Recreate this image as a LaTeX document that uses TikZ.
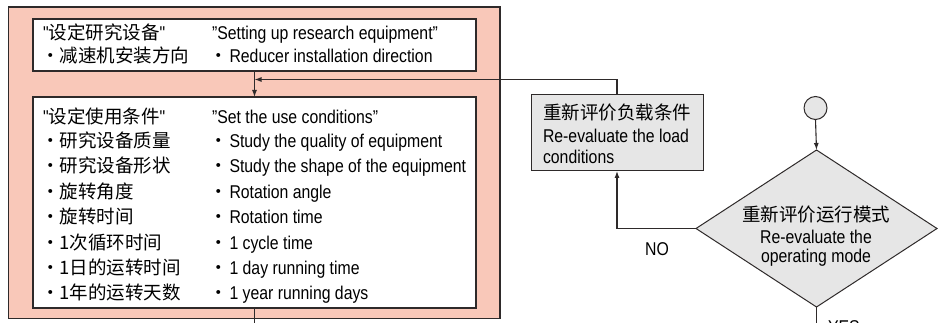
\documentclass[tikz,border=0pt]{standalone}
\usepackage{fontspec}
\setmainfont[FakeStretch=0.855]{Liberation Sans}
\newfontfamily\plainq[FakeStretch=0.855]{Liberation Sans}
\newfontfamily\cjk{Noto Sans CJK SC}
\usetikzlibrary{arrows.meta,shapes.geometric,calc}
\definecolor{pinkbg}{HTML}{F9C8B9}
\definecolor{boxgray}{HTML}{E6E6E6}
\definecolor{ink}{HTML}{2E2A2A}
\newcommand{\sq}{{\plainq "}}
\tikzset{
  frame/.style={draw=ink, line width=1.2pt, inner sep=0pt, outer sep=0pt},
  conn/.style={draw=ink, line width=1.1pt},
  arr/.style={conn, -{Latex[length=7pt,width=5pt]}},
  txt/.style={inner sep=0pt, outer sep=0pt, anchor=base west, text=black, font=\fontsize{18.5}{22}\selectfont},
  ctxt/.style={txt, anchor=base},
}
\begin{document}
\begin{tikzpicture}[x=1pt,y=-1pt]
\useasboundingbox (0,0) rectangle (944,323);
\clip (0,0) rectangle (944,323);
% outer pink panel
\node[frame, fill=pinkbg, minimum width=491.5pt, minimum height=311.5pt, anchor=north west] (panel) at (8.5,7) {};
% box 1
\node[frame, fill=white, minimum width=443pt, minimum height=52pt, anchor=north west] (box1) at (33,19) {};
% box 2
\node[frame, fill=white, minimum width=443pt, minimum height=211pt, anchor=north west] (box2) at (33,97) {};
% reload box
\node[frame, line width=1pt, fill=boxgray, minimum width=172pt, minimum height=76pt, anchor=north west] (reload) at (531,95) {};
% start circle
\node[frame, line width=1pt, fill=boxgray, circle, minimum size=23pt] (start) at (815.5,108) {};
% decision diamond
\node[frame, line width=1pt, fill=boxgray, diamond, minimum width=241pt, minimum height=157pt] (dec) at (816.5,228.5) {};

% box 1 text
\node[txt] (t1a) at (43,40) {\sq{\cjk 设定研究设备}\sq};
\node[txt] (t1b) at (41,62.5) {\cjk ・减速机安装方向};
\node[txt] (e1a) at (212,40) {”Setting up research equipment”};
\node[txt] (e1b) at (209,62.5) {{\cjk ・}\kern2pt Reducer installation direction};

% box 2 text
\node[txt] (t2a) at (43,124) {\sq{\cjk 设定使用条件}\sq};
\node[txt] (t2b) at (41,147.5) {\cjk ・研究设备质量};
\node[txt] (t2c) at (41,173) {\cjk ・研究设备形状};
\node[txt] (t2d) at (41,198.5) {\cjk ・旋转角度};
\node[txt] (t2e) at (41,223.5) {\cjk ・旋转时间};
\node[txt] (t2f) at (41,249) {\cjk ・1次循环时间};
\node[txt] (t2g) at (41,274.5) {\cjk ・1日的运转时间};
\node[txt] (t2h) at (41,299.5) {\cjk ・1年的运转天数};
\node[txt] (e2a) at (212,124) {”Set the use conditions”};
\node[txt] (e2b) at (209,147.5) {{\cjk ・}\kern2pt Study the quality of equipment};
\node[txt] (e2c) at (209,173) {{\cjk ・}\kern2pt Study the shape of the equipment};
\node[txt] (e2d) at (209,198.5) {{\cjk ・}\kern2pt Rotation angle};
\node[txt] (e2e) at (209,223.5) {{\cjk ・}\kern2pt Rotation time};
\node[txt] (e2f) at (209,249) {{\cjk ・}\kern2pt 1 cycle time};
\node[txt] (e2g) at (209,274.5) {{\cjk ・}\kern2pt 1 day running time};
\node[txt] (e2h) at (209,299.5) {{\cjk ・}\kern2pt 1 year running days};

% reload text
\node[txt] (r1) at (543,120) {\cjk 重新评价负载条件};
\node[txt] (r2) at (543,143) {Re-evaluate the load};
\node[txt] (r3) at (543,163.5) {conditions};

% decision text
\node[ctxt] (d1) at (816,221) {\cjk 重新评价运行模式};
\node[ctxt] (d2) at (816,243) {Re-evaluate the};
\node[ctxt] (d3) at (816,262) {operating mode};

% labels
\node[ctxt] (no) at (657,255) {NO};
\node[txt] (yes) at (828,333) {YES};

% connectors
\coordinate (join) at (254.5,79.5);
\coordinate (bot1) at (254.5,330);
\coordinate (bot2) at (816.5,330);
\draw[arr] (box1.south) -- (box2.north);
\draw[arr] (reload.north) |- (join);
\draw[arr] (dec.west) -| (reload.south);
\draw[arr] (start.south) -- (dec.north);
\draw[conn] (box2.south) -- (bot1);
\draw[conn] (dec.south) -- (bot2);
\end{tikzpicture}
\end{document}
